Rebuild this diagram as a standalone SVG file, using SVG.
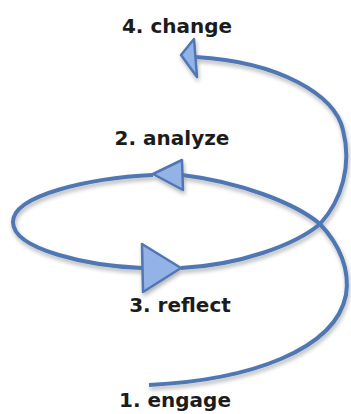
<svg xmlns="http://www.w3.org/2000/svg" width="351" height="414" viewBox="0 0 351 414">
  <defs>
    <style>
      .lbl { font-family: "DejaVu Sans", "Liberation Sans", sans-serif; font-weight: bold; font-size: 20px; fill: #1c1c1c; text-anchor: middle; }
      .flow { fill: none; stroke: #4f77b3; stroke-width: 4; stroke-linecap: butt; stroke-linejoin: round; }
      .head { fill: #93b3e6; stroke: #4f77b3; stroke-width: 2.5; stroke-linejoin: round; }
    </style>
    <filter id="soft" x="-10%" y="-10%" width="120%" height="130%">
      <feGaussianBlur in="SourceAlpha" stdDeviation="2.2"/>
      <feOffset dx="1" dy="3" result="b"/>
      <feComponentTransfer><feFuncA type="linear" slope="0.3"/></feComponentTransfer>
      <feMerge><feMergeNode/><feMergeNode in="SourceGraphic"/></feMerge>
    </filter>
  </defs>

  <rect width="351" height="414" fill="#ffffff"/>

  <!-- spiral path with its arrowheads -->
  <g id="connectors" filter="url(#soft)">
    <!-- from engage, up the right side, to the analyze arrow -->
    <path class="flow" d="M149,385 C250,380 335,350 346,295 C350,270 340,245 320,224 C295,203 240,182 182,175"/>
    <!-- loop round the left, back to the reflect arrow -->
    <path class="flow" d="M153,175 C90,178 13,195 13,222 C13,250 90,266 142,268"/>
    <!-- from reflect, over the crossing, up to the change arrow -->
    <path class="flow" d="M181,268 C240,265 295,245 320,224 C342,200 352,165 343,130 C335,95 280,62 196,57"/>
    <polygon class="head" points="153,174 182,160 183,190"/>
    <polygon class="head" points="142,244 143,292 181,268"/>
    <polygon class="head" points="181,55 194,39 197,77"/>
  </g>

  <g id="change"><text class="lbl" x="177" y="33">4. change</text></g>
  <g id="analyze"><text class="lbl" x="172" y="145">2. analyze</text></g>
  <g id="reflect"><text class="lbl" x="180" y="312">3. reflect</text></g>
  <g id="engage"><text class="lbl" x="175" y="407">1. engage</text></g>
</svg>
